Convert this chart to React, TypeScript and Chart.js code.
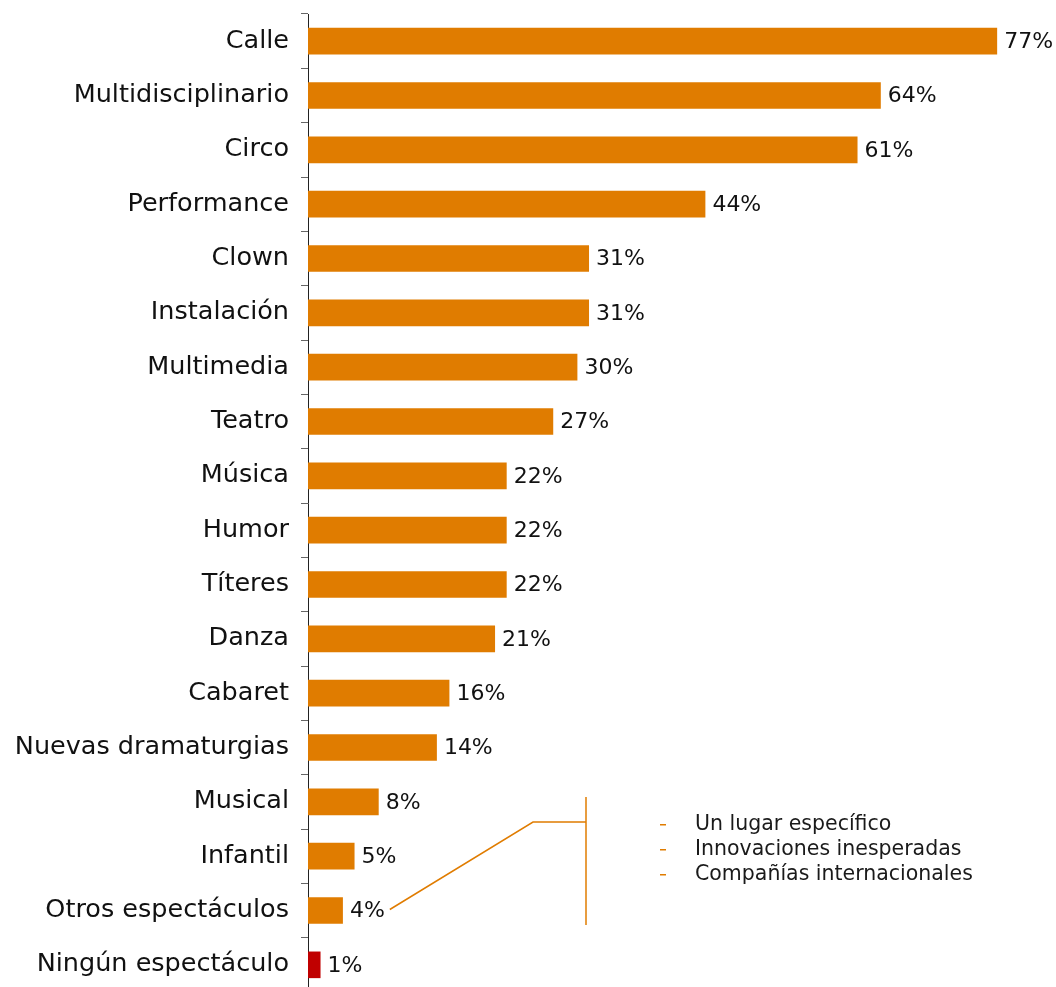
import React, { useEffect, useRef } from "react";
import { Chart, registerables } from "chart.js";
Chart.register(...registerables);

const categories = [
  "Calle", "Multidisciplinario", "Circo", "Performance", "Clown", "Instalación",
  "Multimedia", "Teatro", "Música", "Humor", "Títeres", "Danza", "Cabaret",
  "Nuevas dramaturgias", "Musical", "Infantil", "Otros espectáculos", "Ningún espectáculo",
];
const values = [77, 64, 61.4, 44.4, 31.4, 31.4, 30.1, 27.4, 22.2, 22.2, 22.2, 20.9, 15.8, 14.4, 7.9, 5.2, 3.9, 1.4];
const valueLabels = ["77%", "64%", "61%", "44%", "31%", "31%", "30%", "27%", "22%", "22%", "22%", "21%", "16%", "14%", "8%", "5%", "4%", "1%"];
const noteLines = ["Un lugar específico", "Innovaciones inesperadas", "Compañías internacionales"];
const noteIndex = 16;

const ORANGE = "#E07C00";
const RED = "#C00000";
const FONT = "'DejaVu Sans', sans-serif";

const barColors = categories.map((_, i) => (i === categories.length - 1 ? RED : ORANGE));

const labelPlugin = {
  id: "valueLabels",
  afterDatasetsDraw(chart: any) {
    const ctx = chart.ctx;
    const meta = chart.getDatasetMeta(0);
    ctx.save();
    ctx.font = `22px ${FONT}`;
    ctx.fillStyle = "#111";
    ctx.textBaseline = "middle";
    ctx.textAlign = "left";
    meta.data.forEach((bar: any, i: number) => {
      ctx.fillText(valueLabels[i], bar.x + 7, bar.y + 1);
    });
    // callout
    const nb = meta.data[noteIndex];
    const tw = ctx.measureText(valueLabels[noteIndex]).width;
    const ca = chart.chartArea;
    const sx = nb.x + 7 + tw + 5;
    const sy = nb.y - 1;
    const bracketX = ca.left + 278;
    const lineY0 = ca.top + 808;
    ctx.strokeStyle = ORANGE;
    ctx.lineWidth = 1.5;
    ctx.beginPath();
    ctx.moveTo(sx, sy);
    ctx.lineTo(bracketX - 53, lineY0);
    ctx.lineTo(bracketX, lineY0);
    ctx.stroke();
    ctx.beginPath();
    ctx.moveTo(bracketX, ca.top + 783);
    ctx.lineTo(bracketX, ca.top + 911);
    ctx.stroke();
    ctx.font = `20.5px ${FONT}`;
    noteLines.forEach((t, i) => {
      const y = lineY0 + 2 + i * 25;
      ctx.fillStyle = ORANGE;
      ctx.fillRect(bracketX + 74, y, 6, 1.5);
      ctx.fillStyle = "#1a1a1a";
      ctx.fillText(t, bracketX + 109, y + 1);
    });
    ctx.restore();
  },
};

export default function App() {
  const ref = useRef<HTMLCanvasElement>(null);
  useEffect(() => {
    if (!ref.current) return;
    const chart = new Chart(ref.current, {
      type: "bar",
      data: {
        labels: categories,
        datasets: [
          {
            data: values,
            backgroundColor: barColors,
            borderWidth: 0,
            barPercentage: 0.49,
            categoryPercentage: 1,
          },
        ],
      },
      options: {
        indexAxis: "y",
        responsive: false,
        animation: false,
        layout: { padding: { top: 14, right: 32, bottom: 0, left: 0 } },
        plugins: { legend: { display: false }, tooltip: { enabled: false } },
        scales: {
          x: { display: false, min: 0, max: 80 },
          y: {
            afterFit: (s: any) => {
              s.width = 308;
              s.paddingTop = 0;
              s.paddingBottom = 0;
            },
            grid: { drawOnChartArea: false, drawTicks: true, tickLength: 7, color: "#666", offset: true },
            border: { display: true, color: "#222", width: 1 },
            ticks: { color: "#111", font: { family: FONT, size: 25.5 }, padding: 12, autoSkip: false },
          },
        },
      },
      plugins: [labelPlugin],
    });
    return () => chart.destroy();
  }, []);
  return (
    <div style={{ position: "fixed", left: 0, top: 0, width: 1056, height: 987, overflow: "hidden", background: "#fff" }}>
      <canvas ref={ref} width={1056} height={992} style={{ display: "block" }} />
    </div>
  );
}
